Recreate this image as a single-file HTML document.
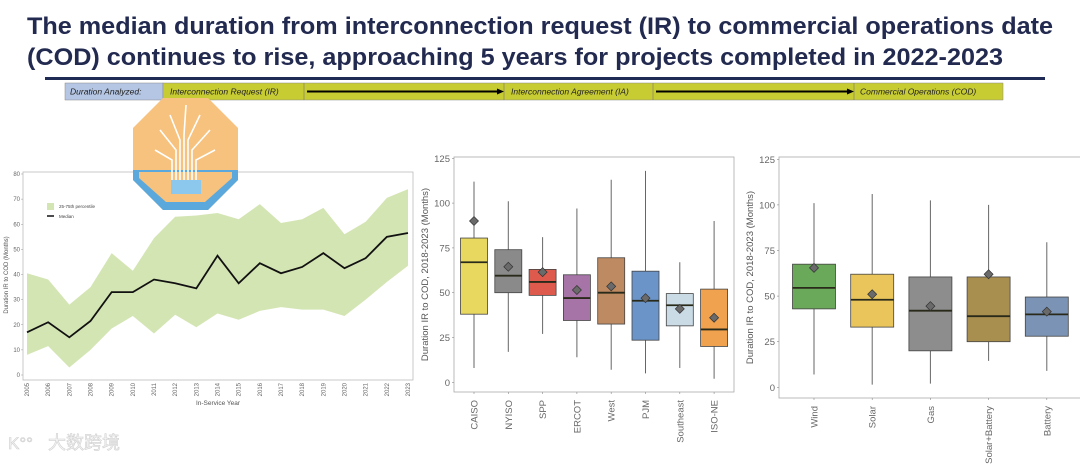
<!DOCTYPE html>
<html><head><meta charset="utf-8"><style>
body{margin:0;background:#fff;width:1080px;height:467px;overflow:hidden;font-family:"Liberation Sans",Arial,sans-serif}
svg{display:block}
</style></head><body>
<svg id="s" width="1080" height="467" viewBox="0 0 1080 467" xmlns="http://www.w3.org/2000/svg" font-family="Liberation Sans, sans-serif">
<g fill="#222a50" font-weight="bold" font-size="24.5">
<text x="27" y="34" textLength="1026" lengthAdjust="spacingAndGlyphs">The median duration from interconnection request (IR) to commercial operations date</text>
<text x="27" y="65" textLength="976" lengthAdjust="spacingAndGlyphs">(COD) continues to rise, approaching 5 years for projects completed in 2022-2023</text>
</g>
<rect x="45" y="77" width="1000" height="3" fill="#1f2a55"/>
<g font-style="italic" font-size="8.5" fill="#222">
<rect x="65" y="83" width="98" height="17" fill="#b4c6e4" stroke="#888" stroke-width="0.5"/>
<rect x="163" y="83" width="840" height="17" fill="#c8cc33" stroke="#888" stroke-width="0.5"/>
<line x1="304" y1="83" x2="304" y2="100" stroke="#777" stroke-width="0.6"/>
<line x1="504" y1="83" x2="504" y2="100" stroke="#777" stroke-width="0.6"/>
<line x1="653" y1="83" x2="653" y2="100" stroke="#777" stroke-width="0.6"/>
<line x1="854" y1="83" x2="854" y2="100" stroke="#777" stroke-width="0.6"/>
<text x="70" y="94.5">Duration Analyzed:</text>
<text x="170" y="94.5">Interconnection Request (IR)</text>
<text x="511" y="94.5">Interconnection Agreement (IA)</text>
<text x="860" y="94.5">Commercial Operations (COD)</text>
<line x1="307" y1="91.5" x2="498" y2="91.5" stroke="#000" stroke-width="2"/>
<polygon points="497,88.5 504,91.5 497,94.5" fill="#000"/>
<line x1="656" y1="91.5" x2="848" y2="91.5" stroke="#000" stroke-width="2"/>
<polygon points="847,88.5 854,91.5 847,94.5" fill="#000"/>
</g>
<g id="c1"></g>
<g id="c2"></g>
<g id="c3"></g>
<g>
<polygon points="163,98 208,98 238,128 238,180 208,210 163,210 133,180 133,128" fill="#f6c27e"/>
<path d="M133,170 L238,170 L238,180 L208,210 L163,210 L133,180 Z" fill="#5aa8dc"/>
<path d="M139,172 L232,172 L232,178 L205,202 L166,202 L139,178 Z" fill="#f6c27e"/>
<rect x="171" y="180" width="30" height="14" fill="#8cc8ee"/>
<g stroke="#fff" stroke-width="1.6" fill="none">
<path d="M176,180 V150 L160,130 M180,180 V140 L170,115 M184,180 V135 L186,105 M188,180 V140 L200,115 M192,180 V150 L210,130 M196,180 V160 L215,150 M172,180 V160 L155,150"/>
</g>
</g>
<text x="48" y="449" font-size="18" fill="#f6f6f6" stroke="#d0d0d0" stroke-width="0.6" font-family="Liberation Sans, Noto Sans CJK SC, sans-serif">大数跨境</text>
<text x="8" y="449" font-size="17" fill="#f6f6f6" stroke="#d0d0d0" stroke-width="0.6">K°°</text>
</svg>
<script>
const years=["2005","2006","2007","2008","2009","2010","2011","2012","2013","2014","2015","2016","2017","2018","2019","2020","2021","2022","2023"];
const medianVals=[17,21,15,21.5,33,33,38,36.5,34.5,47.5,36.5,44.5,40.5,43,48.5,42.5,46.5,55,56.5];
const upperVals=[40.5,38,28,35,48.5,41.5,54.5,63,63.5,64.5,62,68,60.5,62,66.5,56,61,70.5,74];
const lowerVals=[8,11.5,3,10,18.5,23.5,16.5,24,19,24.5,22,25.5,27,26,26,23.5,30,37,43.5];
const yTicks1=[0,10,20,30,40,50,60,70,80];

const regions=["CAISO","NYISO","SPP","ERCOT","West","PJM","Southeast","ISO-NE"];
const regQ1=[38,50,48.5,34.5,32.5,23.5,31.5,20];
const regMed=[67,59.5,56,47,50,45.5,43,29.5];
const regQ3=[80.5,74,63,60,69.5,62,49.5,52];
const regLo=[8,17,27,14,7,5,8,2];
const regHi=[112,101,81,97,113,118,67,90];
const regMean=[90,64.5,61.5,51.5,53.5,47,41,36];
const regColors=["#e8d860","#8a8a8a","#de5a4c","#a674a6","#bd8a62","#6b94c9","#cadbe6","#f0a24f"];

const types=["Wind","Solar","Gas","Solar+Battery","Battery"];
const typQ1=[43,33,20,25,28];
const typMed=[54.5,48,42,39,40];
const typQ3=[67.5,62,60.5,60.5,49.5];
const typLo=[7,1.5,2,14.5,9];
const typHi=[101,106,102.5,100,79.5];
const typMean=[65.5,51,44.5,62,41.5];
const typColors=["#6aa85a","#e9c55c","#8d8d8d","#a88f50","#7b93b5"];
const yTicks2=[0,25,50,75,100,125];

const NS="http://www.w3.org/2000/svg";
function mk(p,t,a,txt){const e=document.createElementNS(NS,t);for(const k in a)e.setAttribute(k,a[k]);if(txt!==undefined)e.textContent=txt;p.appendChild(e);return e;}

// Chart 1
(function(){
const g=document.getElementById('c1');
const L=23,R=413,T=172,B=380;
const y=v=>375-(375-174)*v/80;
const x=i=>27+i*(408-27)/(years.length-1);
const fr=mk(g,'rect',{x:L,y:T,width:R-L,height:B-T,fill:'none',stroke:'#bbb','stroke-width':0.8});

let d='';upperVals.forEach((v,i)=>d+=(i?'L':'M')+x(i)+','+y(v));
for(let i=lowerVals.length-1;i>=0;i--)d+='L'+x(i)+','+y(lowerVals[i]);
const band=mk(g,'path',{d:d+'Z',fill:'#d4e5b4'});

let m='';medianVals.forEach((v,i)=>m+=(i?'L':'M')+x(i)+','+y(v));
const ml=mk(g,'path',{d:m,fill:'none',stroke:'#111','stroke-width':1.8});

yTicks1.forEach(v=>{
 const t=mk(g,'text',{x:L-3,y:y(v)+2,'font-size':6,fill:'#666','text-anchor':'end'},v);
 
 mk(g,'line',{x1:L-2,x2:L,y1:y(v),y2:y(v),stroke:'#999','stroke-width':0.5});
});
years.forEach((yr,i)=>{
 const t=mk(g,'text',{x:0,y:0,'font-size':6,fill:'#666','text-anchor':'end',transform:`translate(${x(i)+2},${B+3}) rotate(-90)`},yr);
 
});
const xt=mk(g,'text',{x:218,y:405,'font-size':6.5,fill:'#555','text-anchor':'middle'},'In-Service Year');

const yt=mk(g,'text',{x:0,y:0,'font-size':6,fill:'#555','text-anchor':'middle',transform:'translate(8,275) rotate(-90)'},'Duration IR to COD (Months)');

const l1=mk(g,'rect',{x:47,y:203,width:7,height:7,fill:'#d4e5b4'});

const lt1=mk(g,'text',{x:59,y:208,'font-size':4.5,fill:'#444'},'25-75th percentile');

const l2=mk(g,'line',{x1:47,x2:54,y1:216,y2:216,stroke:'#111','stroke-width':1.5});

const lt2=mk(g,'text',{x:59,y:218,'font-size':4.5,fill:'#444'},'Median');

})();

function boxChart(id,cats,q1,med,q3,lo,hi,mean,cols,cfg){
 const g=document.getElementById(id);
 const y=v=>cfg.y0-(cfg.y0-cfg.y125)*v/125;
 const x=i=>cfg.x0+i*cfg.dx;
 const fr=mk(g,'rect',{x:cfg.L,y:cfg.T,width:cfg.R-cfg.L,height:cfg.B-cfg.T,fill:'#fff',stroke:'#aaa','stroke-width':0.8});
 
 yTicks2.forEach(v=>{
  const t=mk(g,'text',{x:cfg.L-4,y:y(v)+3.5,'font-size':9.5,fill:'#666','text-anchor':'end'},v);
  
  mk(g,'line',{x1:cfg.L-2,x2:cfg.L,y1:y(v),y2:y(v),stroke:'#888','stroke-width':0.6});
 });
 const hw=cfg.w/2;
 cats.forEach((c,i)=>{
  const cx=x(i);
  const wh=mk(g,'line',{x1:cx,x2:cx,y1:y(hi[i]),y2:y(lo[i]),stroke:'#666','stroke-width':1});
  
  const b=mk(g,'rect',{x:cx-hw,y:y(q3[i]),width:cfg.w,height:y(q1[i])-y(q3[i]),fill:cols[i],stroke:'#444','stroke-width':0.8});
  
  const md=mk(g,'line',{x1:cx-hw,x2:cx+hw,y1:y(med[i]),y2:y(med[i]),stroke:'#2a2a1a','stroke-width':1.8});
  
  const my=y(mean[i]);
  const mn=mk(g,'polygon',{points:`${cx},${my-4.5} ${cx+4.5},${my} ${cx},${my+4.5} ${cx-4.5},${my}`,fill:'#6a6a6a',stroke:'#333','stroke-width':0.7});
  
  mk(g,'line',{x1:cx,x2:cx,y1:cfg.B,y2:cfg.B+2,stroke:'#888','stroke-width':0.6});
  const t=mk(g,'text',{x:0,y:0,'font-size':9.5,fill:'#666','text-anchor':'end',transform:`translate(${cx+3.5},${cfg.B+8}) rotate(-90)`},c);
  
 });
 const yt=mk(g,'text',{x:0,y:0,'font-size':9.5,fill:'#555','text-anchor':'middle',transform:`translate(${cfg.L-26},${(cfg.T+cfg.B)/2}) rotate(-90)`},'Duration IR to COD, 2018-2023 (Months)');
 
}
boxChart('c2',regions,regQ1,regMed,regQ3,regLo,regHi,regMean,regColors,{L:454,R:734,T:157,B:392,y0:382.3,y125:158.3,x0:474,dx:34.3,w:27});
boxChart('c3',types,typQ1,typMed,typQ3,typLo,typHi,typMean,typColors,{L:779,R:1082,T:157,B:398,y0:387.3,y125:159.3,x0:814,dx:58.2,w:43});
</script>
</body></html>
